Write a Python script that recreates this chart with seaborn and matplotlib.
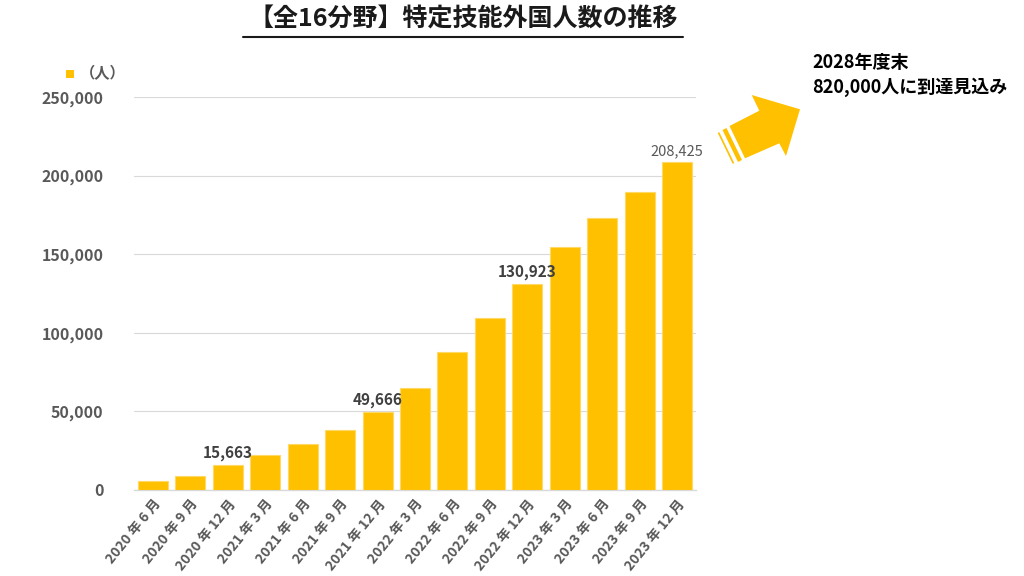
import matplotlib
matplotlib.use("Agg")
import matplotlib.pyplot as plt
import seaborn as sns
import pandas as pd
import numpy as np
from matplotlib.patches import Polygon
from matplotlib.lines import Line2D
from matplotlib.ticker import FuncFormatter, FixedLocator

categories = ["2020 年 6 月", "2020 年 9 月", "2020 年 12 月", "2021 年 3 月", "2021 年 6 月",
              "2021 年 9 月", "2021 年 12 月", "2022 年 3 月", "2022 年 6 月", "2022 年 9 月",
              "2022 年 12 月", "2023 年 3 月", "2023 年 6 月", "2023 年 9 月", "2023 年 12 月"]
values = [5950, 8769, 15663, 22567, 29144, 38337, 49666, 64730, 87471, 109400,
          130923, 154864, 173089, 189500, 208425]
labeled_bold = {2: "15,663", 6: "49,666", 10: "130,923"}
labeled_normal = {14: "208,425"}

sns.set_theme(style="white")
plt.rcParams['font.family'] = ['Noto Sans CJK JP', 'DejaVu Sans']

fig = plt.figure(figsize=(10.24, 5.76), dpi=100)
ax = fig.add_axes([134/1024, 1-490/576, (696-134)/1024, (490-97)/576])

df = pd.DataFrame({"cat": categories, "val": values})
sns.barplot(data=df, x="cat", y="val", color="#FFC000", width=0.8, ax=ax,
            saturation=1, edgecolor="#FFD966", linewidth=0.8, zorder=3)

ax.set_ylim(0, 250000)
ax.set_xlim(-0.5, len(categories)-0.5)
ax.set_yticks([0, 50000, 100000, 150000, 200000, 250000])
ax.yaxis.set_major_formatter(FuncFormatter(lambda v, p: f"{int(v):,}"))
ax.grid(axis="y", color="#d9d9d9", linewidth=0.8, zorder=0)
ax.grid(axis="x", visible=False)
for s in ["top", "right", "left"]:
    ax.spines[s].set_visible(False)
ax.spines["bottom"].set_color("#d9d9d9")
ax.spines["bottom"].set_linewidth(1)
ax.set_xlabel("")
ax.set_ylabel("")
ax.tick_params(axis="y", length=0, pad=22, labelsize=11.5, labelcolor="#595959")
for t in ax.get_yticklabels():
    t.set_fontweight("bold")
ax.tick_params(axis="x", which="major", length=0, pad=5)
ax.xaxis.set_minor_locator(FixedLocator(np.arange(-0.5, len(categories), 1.0)))
ax.tick_params(axis="x", which="minor", length=5, color="#d9d9d9", width=1, direction="out")
ax.set_xticks(range(len(categories)))
ax.set_xticklabels(categories, rotation=51, ha="right", rotation_mode="anchor",
                   fontsize=10, fontweight="bold", color="#595959")

for i, txt in labeled_bold.items():
    ax.text(i, values[i] + 2500, txt, ha="center", va="bottom", fontsize=11,
            fontweight="bold", color="#404040")
for i, txt in labeled_normal.items():
    ax.text(i, values[i] + 2500, txt, ha="center", va="bottom", fontsize=10.5,
            color="#595959")

# legend
fig.patches.append(plt.Rectangle((66/1024, 1-78/576), 8/1024, 8/576, transform=fig.transFigure,
                                 facecolor="#FFC000", edgecolor="none"))
fig.text(80/1024, 1-73/576, "（人）", fontsize=11, color="#595959", va="center", ha="left",
         fontweight="bold")

# title
fig.text(463/1024, 1-20/576, "【全16分野】特定技能外国人数の推移", fontsize=18, fontweight="bold",
         ha="center", va="center", color="#1a1a1a")
fig.lines.append(Line2D([243/1024, 683/1024], [1-37/576, 1-37/576], transform=fig.transFigure,
                        color="#1a1a1a", linewidth=1.5))

# arrow (pixel coordinates, y down)
def px(pts):
    return [(x/1024, 1-y/576) for x, y in pts]

arrow = [(729.5, 126), (759.3, 110.7), (751.7, 95), (800, 109.3), (786, 156),
         (779.3, 143.3), (745, 158.3)]
fig.patches.append(Polygon(px(arrow), closed=True, transform=fig.transFigure,
                           facecolor="#FFC000", edgecolor="none"))
for a, b, lw in [((724.5, 129), (740, 161), 3.2), ((718.5, 132.5), (733.5, 163.5), 1.2)]:
    fig.lines.append(Line2D([a[0]/1024, b[0]/1024], [1-a[1]/576, 1-b[1]/576],
                            transform=fig.transFigure, color="#FFC000", linewidth=lw,
                            solid_capstyle="butt"))

fig.text(812/1024, 1-62/576, "2028年度末", fontsize=13, fontweight="bold", ha="left", va="center",
         color="#000000")
fig.text(812/1024, 1-87/576, "820,000人に到達見込み", fontsize=13, fontweight="bold", ha="left",
         va="center", color="#000000")

fig.savefig("out.png", dpi=100, facecolor="white")
